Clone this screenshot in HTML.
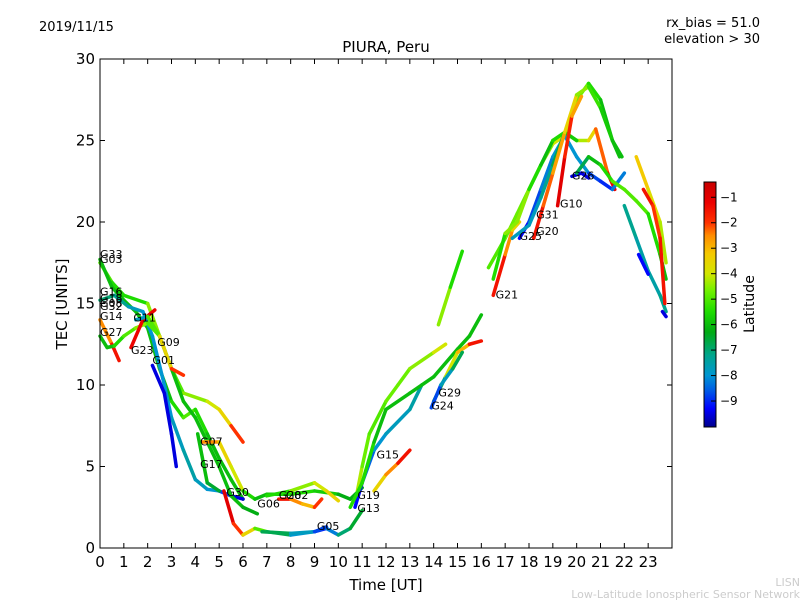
<!DOCTYPE html>
<html><head><meta charset="utf-8"><style>
body{margin:0;background:#fff;}
svg{display:block;font-family:"DejaVu Sans","Liberation Sans",sans-serif;}
</style></head><body>
<svg id="chart" width="800" height="600">
<text x="39" y="31" font-size="13">2019/11/15</text>
<text x="760" y="27" font-size="13" text-anchor="end">rx_bias = 51.0</text>
<text x="760" y="43" font-size="13" text-anchor="end">elevation &gt; 30</text>
<text x="386" y="52" font-size="15" text-anchor="middle">PIURA, Peru</text>
<text x="386" y="590" font-size="15" text-anchor="middle">Time [UT]</text>
<text transform="translate(67,304) rotate(-90)" font-size="15" text-anchor="middle">TEC [UNITS]</text>
<text x="800" y="586" font-size="11" fill="#ccc" text-anchor="end">LISN</text>
<text x="800" y="598" font-size="11" fill="#ccc" text-anchor="end">Low-Latitude Ionospheric Sensor Network</text>
<g id="marks"></g>
<g id="labels"></g>
<g id="axes"></g>
<rect x="100" y="59" width="572" height="489" fill="none" stroke="#000" stroke-width="1"/>
<defs><linearGradient id="jet" x1="0" y1="1" x2="0" y2="0"></linearGradient></defs>
<rect x="704" y="182" width="12" height="245" fill="url(#jet)" stroke="#000"/>
<g id="cbticks"></g>
<text transform="translate(754,304) rotate(-90)" font-size="14" text-anchor="middle">Latitude</text>
</svg>
<script>
const xTicks=[0,1,2,3,4,5,6,7,8,9,10,11,12,13,14,15,16,17,18,19,20,21,22,23];
const yTicks=[0,5,10,15,20,25,30];
const cbTicks=[-1,-2,-3,-4,-5,-6,-7,-8,-9];
// each track: [time, tec, latitude] triplets
const trG03=[[0,17.5,-5],[0.5,16.3,-5],[1,15.5,-6],[2,15,-5],[2.5,13,-4],[3,11,-5],[3.5,9.5,-5],[4.5,9,-4],[5,8.5,-4],[5.5,7.5,-3],[6,6.5,-1]];
const trG33=[[0,17.7,-6],[0.5,16,-6],[1,15.2,-6],[1.5,14.5,-6],[2,13.5,-6],[2.5,11,-6],[3,9,-6],[3.5,8,-5],[4,8.5,-5],[4.5,7,-6],[5,5.5,-6],[5.5,4.2,-6],[6,3,-6]];
const trG16=[[0,15.2,-7],[0.6,15.5,-7],[1.2,14.8,-7.5],[1.8,14.5,-8],[2.2,13,-8],[2.7,10,-8],[3,8,-8],[3.5,6,-7.5],[4,4.2,-7.5],[4.5,3.6,-8],[5,3.5,-8],[5.5,3.2,-9.5],[6,3,-9.5]];
const trG14=[[0,14,-3],[0.5,12.5,-2],[0.8,11.5,-1]];
const trG27=[[0,13,-6],[0.3,12.3,-6],[0.6,12.4,-6],[1,13,-5],[1.5,13.5,-5],[2,13.8,-4],[2.5,13,-6],[3,11,-6],[3.5,9,-6],[4,8,-6],[4.5,6.5,-6],[5,5,-6],[5.5,3.2,-6],[6,2.5,-6],[6.6,2.1,-6.5]];
const trG23=[[1.3,12.3,-1],[1.8,14,-1.5],[2.3,14.6,-1]];
const trG11=[[1.5,14,-9.5],[2,14.2,-6],[2.5,13,-4],[3,11,-3],[3.5,10.6,-1]];
const trG07=[[4.2,6.5,-1],[5,6.5,-4],[5.5,5,-3],[6,3.5,-5],[6.5,3,-6],[7,3.3,-6],[8,3.3,-5.5],[9,3.5,-5.5],[10,3.3,-6],[10.5,3,-6.5],[11,3.7,-6]];
const trG01=[[2.2,11.2,-9.5],[2.7,9.5,-9.5],[3,7,-9.5],[3.2,5,-9.5]];
const trG17=[[4.1,7,-6],[4.5,4,-6],[5,3.5,-7]];
const trG30=[[5.2,3.5,-1],[5.6,1.5,-1],[6,0.8,-3],[6.5,1.2,-4],[7,1,-6],[8,0.8,-7.5],[9,1,-8.5],[9.5,1.2,-9.5],[10,0.8,-7],[10.5,1.2,-7],[11,2.3,-6]];
const trG05=[[6.8,1,-6],[8,0.9,-7.5],[9,1,-8],[9.5,1.3,-9.5]];
const trG02=[[7.5,3,-1],[8,3,-2],[8.5,2.7,-3],[9,2.5,-3],[9.3,3,-1]];
const trG28=[[7,3.2,-6],[8,3.5,-5],[9,4,-4],[9.5,3.5,-4],[10,2.9,-3]];
const trG19=[[10.8,3.5,-4],[11,5,-4.5],[11.3,7,-5],[12,9,-5],[12.5,10,-4.5],[13,11,-5],[14,12,-4],[14.5,12.5,-4]];
const trA=[[14.2,13.7,-4],[14.7,16,-5],[15.2,18.2,-6]];
const trG13=[[10.7,2.5,-9.5],[11,4,-9],[11.5,6,-8],[12,7,-8],[13,8.5,-7.5],[13.5,10,-7.5]];
const trG15=[[11.5,3.5,-4],[12,4.5,-3],[12.5,5.2,-2],[13,6,-1]];
const trRise=[[10.5,2.5,-6],[11,4,-5],[11.5,6.5,-6],[12,8.5,-6],[13,9.5,-6],[14,10.5,-6],[15,12.2,-6],[15.5,13,-6],[16,14.3,-6]];
const trG29=[[14,9,-9.5],[14.5,10.5,-4],[15,12,-4],[15.5,12.5,-2],[16,12.7,-1]];
const trG24=[[13.9,8.6,-9.5],[14.3,10,-8],[14.8,11,-7.5],[15.2,12,-6]];
const trG21=[[16.5,15.5,-1],[17,18,-2],[17.3,19.5,-3],[17.6,20,-4]];
const trBig=[[16.3,17.2,-5],[17,19,-5],[17.5,20.5,-4.5],[18,22,-5],[18.5,23.5,-5],[19,24.8,-4],[19.5,25.3,-4],[20,27.5,-4.5],[20.5,28.5,-5],[21,27.5,-6],[21.5,25,-6],[21.8,24,-6]];
const trB=[[16.5,16.5,-6],[17,19.3,-5],[17.5,20,-4],[18,22,-5],[18.5,23.5,-6],[19,25,-6],[19.5,25.5,-5],[20,25,-4.5],[20.5,25,-4],[20.8,25.7,-3],[21.3,23,-1.5],[21.6,22,-1]];
const trG25=[[17.6,19,-9.5],[18,20,-9],[18.5,22,-8.5],[19,24,-8],[19.5,25.3,-8],[20,24,-8],[20.5,23,-8],[21,22.5,-9.5],[21.5,22,-8.5],[22,23,-8]];
const trG31=[[17.3,19,-7.5],[18,19.8,-8],[18.5,21.5,-7.5],[19,23.5,-7],[19.5,25.5,-6.5],[20,25,-5]];
const trG20=[[18.2,19,-1],[18.6,21,-2],[19,23,-2.5],[19.5,25.5,-3],[20,27.8,-4],[20.5,28.3,-5],[21,27,-5.5],[21.5,25,-6],[21.9,24,-6]];
const trG10=[[19.2,21,-1],[19.5,24,-1],[19.8,26.5,-2.5],[20.2,27.7,-3]];
const trG26=[[19.8,22.8,-9.5],[20.2,23,-9.5],[20.5,22.7,-9.5]];
const trC=[[20,23,-7.5],[20.5,24,-6],[21,23.5,-6],[21.5,22.5,-5],[22,22,-5],[22.5,21.3,-5],[23,20.5,-5],[23.5,18,-6],[23.75,16.5,-6]];
const trD=[[22,21,-7],[22.5,19,-7.5],[23,17,-7.5],[23.5,15.5,-7.5],[23.75,14.5,-7]];
const trE=[[22.5,24,-3],[23,22,-3.5],[23.5,20,-4],[23.75,17.5,-4.5]];
const trF=[[22.8,22,-1],[23.2,21,-2],[23.5,19,-2],[23.7,15,-1]];
const trG=[[22.6,18,-9.5],[23,16.8,-9]];
const trH=[[23.6,14.5,-9.5],[23.75,14.2,-9.5]];
const tracks=[trG03,trG33,trG16,trG14,trG27,trG23,trG11,trG07,trG01,trG17,trG30,trG05,trG02,trG28,trG19,trA,trG13,trG15,trRise,trG29,trG24,trG21,trBig,trB,trG25,trG31,trG20,trG10,trG26,trC,trD,trE,trF,trG,trH];
const satNames=["G33","G03","G16","G18","G08","G32","G14","G27","G11","G23","G09","G01","G07","G17","G30","G06","G28","G02","G05","G19","G13","G15","G29","G24","G21","G25","G31","G20","G10","G26"];
const satT=[0,0,0,0,0,0,0,0,1.4,1.3,2.4,2.2,4.2,4.2,5.3,6.6,7.5,7.8,9.1,10.8,10.8,11.6,14.2,13.9,16.6,17.6,18.3,18.3,19.3,19.8];
const satV=[17.8,17.5,15.5,15.1,14.8,14.6,14,13,13.9,11.9,12.4,11.3,6.3,4.9,3.2,2.5,3,3,1.1,3,2.2,5.5,9.3,8.5,15.3,18.9,20.2,19.2,20.9,22.6];
const X=t=>100+t*572/24, Y=v=>548-v*489/30;
const vmin=-10.02,vmax=-0.4;
const cmapV=[-10.02,-9.3,-8.6,-8,-7.2,-6.3,-5.5,-4.7,-4,-3.2,-2.5,-2,-1.2,-0.4];
const cmapC=[[0,0,140],[0,0,255],[0,90,230],[0,150,210],[0,165,140],[0,170,20],[30,220,0],[110,240,0],[210,230,0],[245,200,0],[255,140,0],[255,50,0],[235,0,0],[200,0,0]];
function jet(v){v=Math.max(vmin,Math.min(vmax,v));let i=0;while(i<cmapV.length-2&&v>cmapV[i+1])i++;
 const f=(v-cmapV[i])/(cmapV[i+1]-cmapV[i]),a=cmapC[i],b=cmapC[i+1];
 return `rgb(${Math.round(a[0]+(b[0]-a[0])*f)},${Math.round(a[1]+(b[1]-a[1])*f)},${Math.round(a[2]+(b[2]-a[2])*f)})`;}
const NS="http://www.w3.org/2000/svg";
const mk=(tag,at,par)=>{const e=document.createElementNS(NS,tag);for(const k in at)e.setAttribute(k,at[k]);par.appendChild(e);return e;};
const grad=document.getElementById('jet');
cmapV.forEach((v,i)=>{mk('stop',{offset:(v-vmin)/(vmax-vmin),'stop-color':`rgb(${cmapC[i].join(',')})`},grad);});
const gm=document.getElementById('marks');
tracks.forEach((tr,i)=>{for(let j=0;j<tr.length-1;j++){
 const a=tr[j],b=tr[j+1];
 const ln=mk('line',{x1:X(a[0]),y1:Y(a[1]),x2:X(b[0]),y2:Y(b[1]),stroke:jet((a[2]+b[2])/2),'stroke-width':3.5,'stroke-linecap':'round'},gm);
 
 
}});
const gl=document.getElementById('labels');
satNames.forEach((n,i)=>{const t=mk('text',{x:X(satT[i]),y:Y(satV[i]),'font-size':11},gl);t.textContent=n;
 
 });
const ga=document.getElementById('axes');
xTicks.forEach(v=>{const x=X(v);
 mk('line',{x1:x,y1:548,x2:x,y2:543,stroke:'#000'},ga);mk('line',{x1:x,y1:59,x2:x,y2:64,stroke:'#000'},ga);
 const t=mk('text',{x:x,y:567,'font-size':15,'text-anchor':'middle'},ga);t.textContent=v;
 
 });
yTicks.forEach(v=>{const y=Y(v);
 mk('line',{x1:100,y1:y,x2:105,y2:y,stroke:'#000'},ga);mk('line',{x1:672,y1:y,x2:667,y2:y,stroke:'#000'},ga);
 const t=mk('text',{x:95,y:y+5,'font-size':15,'text-anchor':'end'},ga);t.textContent=v;
 
 });
const gc=document.getElementById('cbticks');
cbTicks.forEach(v=>{const y=427-(v-vmin)/(vmax-vmin)*245;
 mk('line',{x1:711,y1:y,x2:716,y2:y,stroke:'#000'},gc);
 const t=mk('text',{x:720,y:y+4,'font-size':12},gc);t.textContent='\u2212'+(-v);
 
 });
</script>
</body></html>
